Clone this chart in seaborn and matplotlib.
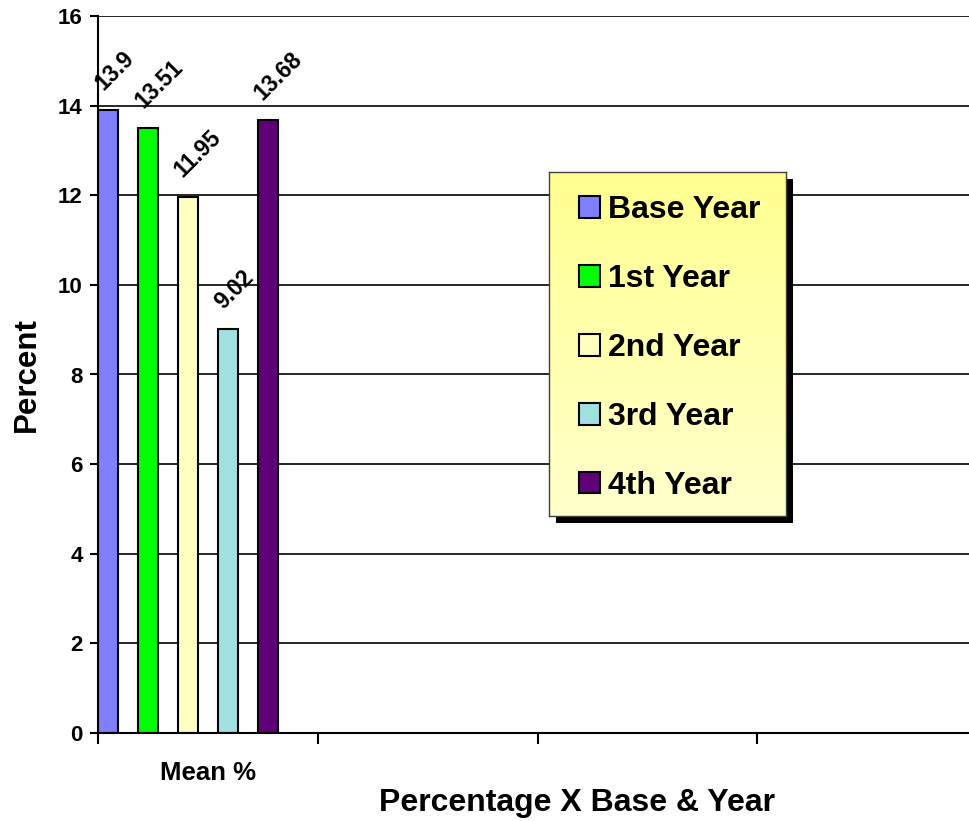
import numpy as np
import pandas as pd
import seaborn as sns
import matplotlib.pyplot as plt
from matplotlib.patches import Patch, Rectangle
from matplotlib.colors import LinearSegmentedColormap

# data
years = ["Base Year", "1st Year", "2nd Year", "3rd Year", "4th Year"]
means = [13.9, 13.51, 11.95, 9.02, 13.68]
colors = ["#8080FF", "#00FF00", "#FFFFC0", "#A0E0E0", "#600078"]
stat = "Mean %"
cats = ["Mean %", " ", "  ", "   "]
yticks = list(range(0, 17, 2))

sns.set_style("white")
plt.rcParams['font.family'] = ['Liberation Sans', 'DejaVu Sans']
plt.rcParams['font.weight'] = 'bold'
plt.rcParams['text.color'] = 'black'
plt.rcParams['xtick.color'] = 'black'
plt.rcParams['ytick.color'] = 'black'
plt.rcParams['axes.labelcolor'] = 'black'

df = pd.DataFrame({"stat": [stat] * len(years), "year": years, "percent": means})

fig = plt.figure(figsize=(9.69, 8.21), dpi=100)
fig.patch.set_facecolor("white")
ax = fig.add_axes([98 / 969, 1 - 733 / 821, 879 / 969, 717 / 821])

sns.barplot(data=df, x="stat", y="percent", hue="year", order=cats,
            hue_order=years, palette=dict(zip(years, colors)), saturation=1,
            width=0.909, gap=0.5, edgecolor="black", linewidth=1.5,
            legend=False, ax=ax)

# rotated value labels above each bar
for cont in ax.containers:
    for bar in cont:
        h = bar.get_height()
        ax.annotate(f"{h:g}", xy=(bar.get_x() + bar.get_width() / 2, h),
                    xytext=(-7, 17), textcoords="offset points",
                    rotation=45, rotation_mode="anchor", ha="left", va="center",
                    fontsize=16.5, fontweight="bold", color="black",
                    annotation_clip=False)

# excel-like category axis: group sits left of category centre
x0 = -0.41
ax.set_xlim(x0, x0 + len(cats))
ax.set_xticks([x0 + k for k in range(len(cats))])
ax.set_xticklabels([])
ax.set_xticks([x0 + 0.5 + k for k in range(len(cats))], minor=True)
ax.set_xticklabels([c.strip() for c in cats], minor=True)
ax.tick_params(axis="x", which="major", length=8, width=1.5, color="black",
               direction="out", bottom=True)
ax.tick_params(axis="x", which="minor", length=0, pad=20, labelsize=18.5)

ax.set_ylim(0, 16)
ax.set_yticks(yticks)
ax.tick_params(axis="y", length=6, width=1.5, color="black", direction="out",
               pad=5, labelsize=16, left=True)
for lab in ax.get_yticklabels() + ax.get_xticklabels(minor=True):
    lab.set_fontweight("bold")

ax.yaxis.grid(True, color="black", linewidth=1.2)
ax.xaxis.grid(False)
ax.set_axisbelow(True)
for s in ["top", "right"]:
    ax.spines[s].set_visible(False)
for s in ["left", "bottom"]:
    ax.spines[s].set_color("black")
    ax.spines[s].set_linewidth(1.5)

ax.set_xlabel("Percentage X Base & Year", fontsize=23, fontweight="bold")
ax.xaxis.set_label_coords(0.545, -0.077)
ax.set_ylabel("Percent", fontsize=22.5, fontweight="bold")
ax.yaxis.set_label_coords(-0.064, 0.5)

# legend box with gradient fill and hard shadow
bx, by, bw, bh = 549 / 969, 1 - 516 / 821, 237 / 969, 344 / 821
fig.patches.append(Rectangle((bx + 7 / 969, by - 7 / 821), bw, bh,
                             transform=fig.transFigure, facecolor="black",
                             edgecolor="none", zorder=0.5))
lax = fig.add_axes([bx, by, bw, bh], zorder=1)
cmap = LinearSegmentedColormap.from_list("leg", ["#FFFFCC", "#FFFF90"])
lax.imshow(np.linspace(0, 1, 256).reshape(-1, 1), cmap=cmap, aspect="auto",
           origin="lower", extent=(0, 1, 0, 1))
lax.set_xticks([])
lax.set_yticks([])
for s in lax.spines.values():
    s.set_color("#404040")
    s.set_linewidth(1)

handles = [Patch(facecolor=c, edgecolor="black", linewidth=1.5) for c in colors]
fig.legend(handles, years, loc="center",
           bbox_to_anchor=(bx + bw / 2 + 2 / 969, by + bh / 2 - 4 / 821),
           frameon=False, prop={"size": 23, "weight": "bold"},
           handlelength=0.66, handleheight=0.66, handletextpad=0.25,
           labelspacing=1.22)

fig.savefig("out.png", dpi=100)
